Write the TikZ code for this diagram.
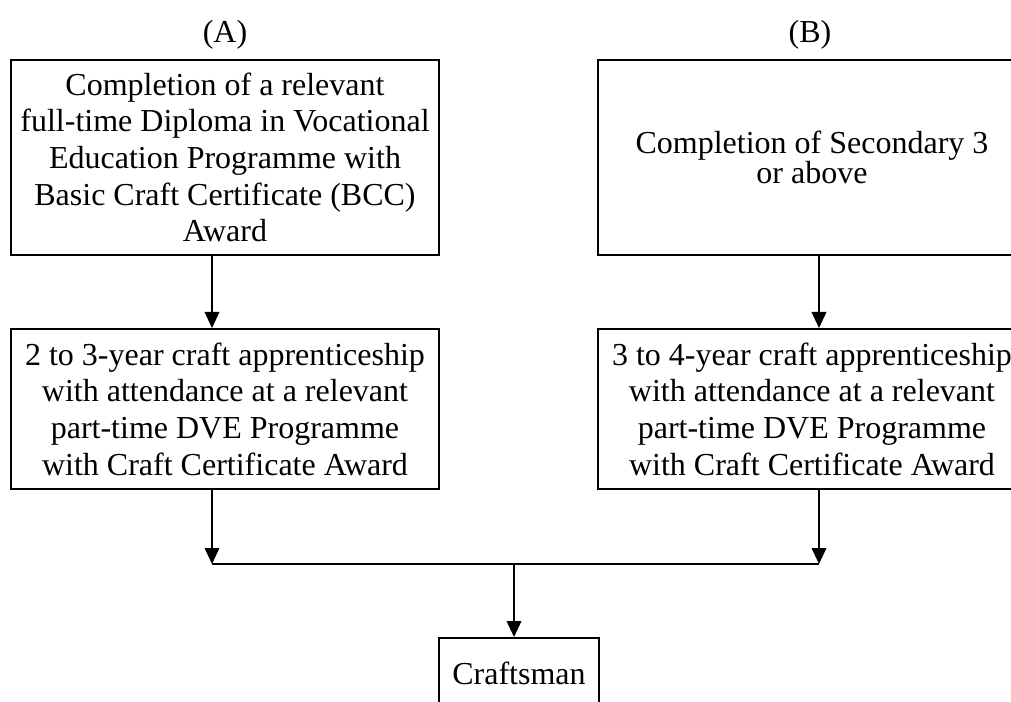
\documentclass[tikz,border=0pt]{standalone}
\usepackage{fontspec}
\setmainfont{Liberation Serif}
\usetikzlibrary{arrows.meta}
\begin{document}
\begin{tikzpicture}[x=0.75pt,y=-0.75pt,
  txt/.style={font=\fontsize{24}{27.5}\selectfont},
  box/.style={txt, draw, line width=1.5pt, inner sep=0pt, align=center},
  lbl/.style={txt, inner sep=0pt},
  conn/.style={line width=1.2pt},
  arr/.style={conn, -{Triangle[length=12pt,width=11pt]}}]
\path[use as bounding box] (0,0) rectangle (1011,702);
\clip (0,0) rectangle (1011,702);

% column headings
\node[lbl] (hA) at (225,35) {(A)};
\node[lbl] (hB) at (810,35) {(B)};

% route A
\node[box, minimum width=321pt, minimum height=146.25pt] (A1) at (225,157.5)
  {Completion of a relevant\\ full-time Diploma in Vocational\\ Education Programme with\\ Basic Craft Certificate (BCC)\\ Award};
\node[box, minimum width=321pt, minimum height=120pt] (A2) at (225,409)
  {2 to 3-year craft apprenticeship\\ with attendance at a relevant\\ part-time DVE Programme\\ with Craft Certificate Award};

% route B
\node[box, minimum width=321pt, minimum height=146.25pt,
      font=\fontsize{24}{22.5}\selectfont] (B1) at (812,157.5)
  {Completion of Secondary 3\\ or above};
\node[box, minimum width=321pt, minimum height=120pt] (B2) at (812,409)
  {3 to 4-year craft apprenticeship\\ with attendance at a relevant\\ part-time DVE Programme\\ with Craft Certificate Award};

% outcome
\node[box, minimum width=120pt, minimum height=52.5pt] (C) at (519,673) {Craftsman};

% junction points on the joining line
\coordinate (jA) at (212,564);
\coordinate (jB) at (819,564);
\coordinate (jC) at (514,564);

\draw[arr] (A1.south -| jA) -- (A2.north -| jA);
\draw[arr] (B1.south -| jB) -- (B2.north -| jB);
\draw[arr] (A2.south -| jA) -- (jA);
\draw[arr] (B2.south -| jB) -- (jB);
\draw[conn] (jA) -- (jB);
\draw[arr] (jC) -- (C.north -| jC);
\end{tikzpicture}
\end{document}
